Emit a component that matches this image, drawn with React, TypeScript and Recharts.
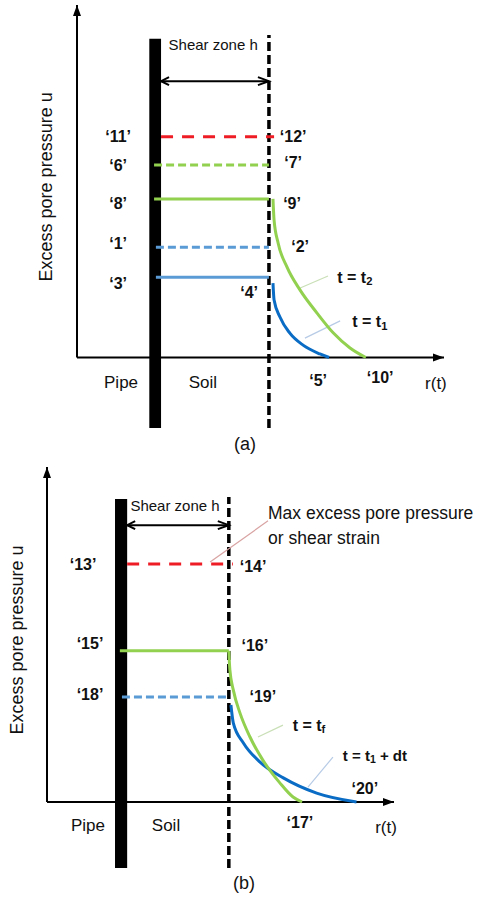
import { LineChart, Line, XAxis, YAxis, ReferenceLine, ReferenceArea, ReferenceDot } from 'recharts';

const FONT = '"Liberation Sans", Arial, sans-serif';
const RED = '#ee1c25';
const GREEN = '#92d050';
const BLUE_LINE = '#5b9bd5';
const BLUE_CURVE = '#0a6cc4';

// panel (a): pore pressure profiles, r in % of axis, u in % of axis
const curveT2A = [
  { r: 53.4, u: 45.0 }, { r: 53.7, u: 39.0 }, { r: 54.8, u: 32.5 }, { r: 57.2, u: 25.7 },
  { r: 60.8, u: 19.1 }, { r: 65.4, u: 12.6 }, { r: 69.8, u: 7.0 }, { r: 74.4, u: 2.7 }, { r: 78.7, u: 0 },
];
const curveT1A = [
  { r: 53.4, u: 21.1 }, { r: 53.7, u: 16.3 }, { r: 55.3, u: 11.5 }, { r: 58.0, u: 6.9 },
  { r: 61.6, u: 3.5 }, { r: 66.2, u: 1.0 }, { r: 68.7, u: 0 },
];
// u levels: red max, green dashed, green solid, blue dashed, blue solid
const levelsA = [62.6, 54.6, 45.0, 31.3, 22.8];
const levelStartA = [22.9, 21.0, 21.0, 21.5, 21.5];
const levelEndA = [53.7, 52.3, 52.3, 52.3, 52.3];
const pipeA = { r0: 19.7, r1: 22.9, top: 90.4 };
const shearA = { r: 52.3, top: 91.5, arrowU: 78.4 };
const pointLabelsA = [
  { text: '‘11’', r: 11.2, u: 62.6 }, { text: '‘12’', r: 58.9, u: 62.6 },
  { text: '‘6’', r: 11.2, u: 54.6 }, { text: '‘7’', r: 58.9, u: 55.2 },
  { text: '‘8’', r: 11.2, u: 43.8 }, { text: '‘9’', r: 58.6, u: 43.8 },
  { text: '‘1’', r: 11.2, u: 32.2 }, { text: '‘2’', r: 60.8, u: 31.6 },
  { text: '‘3’', r: 11.2, u: 21.1 }, { text: '‘4’', r: 46.9, u: 18.3 },
  { text: '‘5’', r: 65.7, u: -6.4 }, { text: '‘10’', r: 82.6, u: -5.8 },
];

// panel (b)
const curveTfB = [
  { r: 52.4, u: 45.8 }, { r: 52.7, u: 40.0 }, { r: 53.7, u: 33.9 }, { r: 55.6, u: 27.0 },
  { r: 58.5, u: 19.7 }, { r: 62.2, u: 12.7 }, { r: 67.1, u: 5.8 }, { r: 70.9, u: 1.5 }, { r: 73.5, u: 0 },
];
const curveDtB = [
  { r: 53.0, u: 29.4 }, { r: 53.7, u: 23.9 }, { r: 56.6, u: 17.9 }, { r: 61.4, u: 12.1 },
  { r: 68.1, u: 7.3 }, { r: 77.7, u: 2.7 }, { r: 89.2, u: 0 },
];
// u levels: red max, green solid, blue dashed
const levelsB = [72.1, 45.8, 31.8];
const levelStartB = [23.1, 21.0, 21.6];
const levelEndB = [53.6, 52.4, 52.4];
const pipeB = { r0: 19.6, r1: 23.1, top: 91.8 };
const shearB = { r: 52.4, top: 92.4, arrowU: 83.9 };
const pointLabelsB = [
  { text: '‘13’', r: 10.4, u: 72.1 }, { text: '‘14’', r: 59.4, u: 71.5 },
  { text: '‘15’', r: 12.4, u: 47.9 }, { text: '‘16’', r: 59.9, u: 47.3 },
  { text: '‘18’', r: 12.4, u: 32.7 }, { text: '‘19’', r: 62.2, u: 32.1 },
  { text: '‘20’', r: 91.6, u: 4.2 }, { text: '‘17’', r: 72.9, u: -6.1 },
];

const Arrow = ({ cx, cy, dir, open }: any) => {
  if (cx == null || cy == null) return null;
  const pts: Record<string, number[][]> = {
    up: [[cx - 4, cy + 11], [cx, cy], [cx + 4, cy + 11]],
    right: [[cx - 11, cy - 4], [cx, cy], [cx - 11, cy + 4]],
    left: [[cx + 8, cy - 4], [cx, cy], [cx + 8, cy + 4]],
  };
  const p = pts[dir].map((q) => q.join(',')).join(' ');
  return open
    ? <polyline points={p} fill="none" stroke="#000" strokeWidth={2} />
    : <polygon points={p} fill="#000" />;
};

const Txt = ({ cx, cy, text, sub, tail, size = 15, bold, anchor = 'middle', angle, color = '#111' }: any) => {
  if (cx == null || cy == null) return null;
  return (
    <text
      x={cx}
      y={cy}
      fontFamily={FONT}
      fontSize={size}
      fontWeight={bold ? 'bold' : 'normal'}
      textAnchor={anchor}
      dominantBaseline="central"
      fill={color}
      transform={angle ? `rotate(${angle}, ${cx}, ${cy})` : undefined}
    >
      {text}
      {sub && <tspan dy={4} fontSize={size * 0.7}>{sub}</tspan>}
      {tail && <tspan dy={-4}>{tail}</tspan>}
    </text>
  );
};

const Axes = ({ tipR, tipU }: { tipR: number; tipU: number }) => (
  <>
    <ReferenceLine segment={[{ x: 0, y: 0 }, { x: tipR, y: 0 }]} stroke="#000" strokeWidth={2} ifOverflow="visible" />
    <ReferenceLine segment={[{ x: 0, y: 0 }, { x: 0, y: tipU }]} stroke="#000" strokeWidth={2} ifOverflow="visible" />
    <ReferenceDot x={tipR} y={0} ifOverflow="visible" shape={(p: any) => <Arrow {...p} dir="right" />} />
    <ReferenceDot x={0} y={tipU} ifOverflow="visible" shape={(p: any) => <Arrow {...p} dir="up" />} />
  </>
);

const Zone = ({ pipe, shear }: any) => (
  <>
    <ReferenceArea x1={pipe.r0} x2={pipe.r1} y1={-20} y2={pipe.top} fill="#000" fillOpacity={1} ifOverflow="visible" />
    <ReferenceLine
      segment={[{ x: shear.r, y: -20 }, { x: shear.r, y: shear.top }]}
      stroke="#000" strokeWidth={3.5} strokeDasharray="9 4" ifOverflow="visible"
    />
    <ReferenceLine
      segment={[{ x: pipe.r1, y: shear.arrowU }, { x: shear.r, y: shear.arrowU }]}
      stroke="#000" strokeWidth={2} ifOverflow="visible"
    />
    <ReferenceDot x={pipe.r1} y={shear.arrowU} ifOverflow="visible" shape={(p: any) => <Arrow {...p} dir="left" open />} />
    <ReferenceDot x={shear.r} y={shear.arrowU} ifOverflow="visible" shape={(p: any) => <Arrow {...p} dir="right" open />} />
  </>
);

const label = (key: string, r: number, u: number, props: any) => (
  <ReferenceDot key={key} x={r} y={u} ifOverflow="visible" shape={(p: any) => <Txt {...p} {...props} />} />
);

// panel (a) box is 470 tall so the caption is not clipped; plot area stays 5..428
const PanelA = () => (
  <LineChart width={479} height={470} margin={{ top: 5, right: 35, bottom: 42, left: 77 }}>
    <XAxis type="number" dataKey="r" domain={[0, 100]} hide allowDataOverflow />
    <YAxis type="number" dataKey="u" domain={[-20, 100]} hide allowDataOverflow />
    <Axes tipR={100} tipU={100} />
    <Zone pipe={pipeA} shear={shearA} />
    {levelsA.map((u, i) => (
      <ReferenceLine
        key={`la${i}`}
        segment={[{ x: levelStartA[i], y: u }, { x: levelEndA[i], y: u }]}
        stroke={[RED, GREEN, GREEN, BLUE_LINE, BLUE_LINE][i]}
        strokeWidth={3}
        strokeDasharray={['12 9', '8 4', undefined, '8 4', undefined][i]}
        ifOverflow="visible"
      />
    ))}
    <ReferenceLine segment={[{ x: 60.8, y: 19.7 }, { x: 68.4, y: 23.1 }]} stroke="#c9dfb6" strokeWidth={1.2} />
    <ReferenceLine segment={[{ x: 62.1, y: 5.5 }, { x: 71.7, y: 10.4 }]} stroke="#b7cbe6" strokeWidth={1.2} />
    <Line data={curveT2A} dataKey="u" type="monotone" stroke={GREEN} strokeWidth={3} dot={false} isAnimationActive={false} />
    <Line data={curveT1A} dataKey="u" type="monotone" stroke={BLUE_CURVE} strokeWidth={3} dot={false} isAnimationActive={false} />
    {pointLabelsA.map((l, i) => label(`pa${i}`, l.r, l.u, { text: l.text, bold: true, size: 16 }))}
    {label('sz', 37.1, 88.7, { text: 'Shear zone h', size: 15 })}
    {label('pipe', 12.0, -7.2, { text: 'Pipe', size: 17 })}
    {label('soil', 34.3, -7.2, { text: 'Soil', size: 17 })}
    {label('rt', 97.8, -7.5, { text: 'r(t)', size: 17 })}
    {label('t2', 75.7, 22.8, { text: 't = t', sub: '2', bold: true, size: 16 })}
    {label('t1', 79.8, 10.1, { text: 't = t', sub: '1', bold: true, size: 16 })}
    {label('ya', -8.4, 48.4, { text: 'Excess pore pressure u', size: 18, angle: -90 })}
    {label('cap', 45.8, -24.4, { text: '(a)', size: 18 })}
  </LineChart>
);

const PanelB = () => (
  <LineChart width={479} height={450} margin={{ top: 22, right: 85, bottom: 32, left: 47 }}>
    <XAxis type="number" dataKey="r" domain={[0, 100]} hide allowDataOverflow />
    <YAxis type="number" dataKey="u" domain={[-20, 100]} hide allowDataOverflow />
    <Axes tipR={100} tipU={101.5} />
    <Zone pipe={pipeB} shear={shearB} />
    {levelsB.map((u, i) => (
      <ReferenceLine
        key={`lb${i}`}
        segment={[{ x: levelStartB[i], y: u }, { x: levelEndB[i], y: u }]}
        stroke={[RED, GREEN, BLUE_LINE][i]}
        strokeWidth={3}
        strokeDasharray={['12 9', undefined, '8 4'][i]}
        ifOverflow="visible"
      />
    ))}
    <ReferenceLine segment={[{ x: 47.0, y: 72.7 }, { x: 63.7, y: 85.2 }]} stroke="#d9a3a3" strokeWidth={1.2} ifOverflow="visible" />
    <ReferenceLine segment={[{ x: 60.8, y: 19.7 }, { x: 68.0, y: 23.3 }]} stroke="#c9dfb6" strokeWidth={1.2} />
    <ReferenceLine segment={[{ x: 75.2, y: 4.5 }, { x: 82.4, y: 13.6 }]} stroke="#b7cbe6" strokeWidth={1.2} />
    <Line data={curveDtB} dataKey="u" type="monotone" stroke={BLUE_CURVE} strokeWidth={3} dot={false} isAnimationActive={false} />
    <Line data={curveTfB} dataKey="u" type="monotone" stroke={GREEN} strokeWidth={3} dot={false} isAnimationActive={false} />
    {pointLabelsB.map((l, i) => label(`pb${i}`, l.r, l.u, { text: l.text, bold: true, size: 16 }))}
    {label('sz', 36.9, 90.0, { text: 'Shear zone h', size: 15 })}
    {label('max1', 63.7, 87.6, { text: 'Max excess pore pressure', size: 17.5, anchor: 'start' })}
    {label('max2', 63.7, 80.0, { text: 'or shear strain', size: 17.5, anchor: 'start' })}
    {label('pipe', 11.8, -7.0, { text: 'Pipe', size: 17 })}
    {label('soil', 34.3, -7.0, { text: 'Soil', size: 17 })}
    {label('rt', 97.7, -7.6, { text: 'r(t)', size: 17 })}
    {label('tf', 75.5, 23.3, { text: 't = t', sub: 'f', bold: true, size: 16 })}
    {label('tdt', 94.5, 14.2, { text: 't = t', sub: '1', tail: ' + dt', bold: true, size: 15 })}
    {label('yb', -8.6, 49.1, { text: 'Excess pore pressure u', size: 18, angle: -90 })}
    {label('cap', 56.8, -24.5, { text: '(b)', size: 18 })}
  </LineChart>
);

export default function App() {
  return (
    <div style={{ position: 'absolute', left: 0, top: 0, width: 479, height: 900, background: '#fff' }}>
      <div style={{ position: 'absolute', left: 0, top: 0 }}>
        <PanelA />
      </div>
      <div style={{ position: 'absolute', left: 0, top: 450 }}>
        <PanelB />
      </div>
    </div>
  );
}
